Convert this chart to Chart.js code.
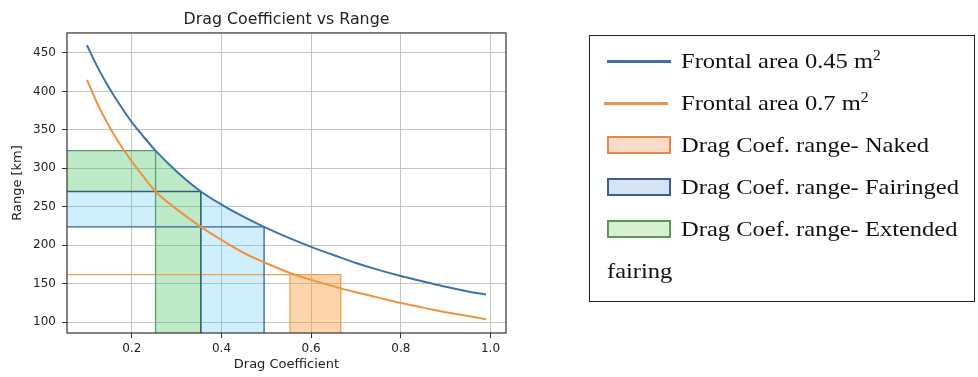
<!DOCTYPE html>
<html>
<head>
<meta charset="utf-8">
<script src="https://cdn.jsdelivr.net/npm/chart.js@4.4.1/dist/chart.umd.min.js"></script>
<style>
  body { margin: 0; background: #fff; }
  #wrap { position: relative; width: 978px; height: 377px; }
  #legend {
    position: absolute; left: 589px; top: 35px; width: 386px; height: 267px;
    border: 1px solid #222; box-sizing: border-box;
    font-family: 'Liberation Serif', 'Times New Roman', serif; font-size: 22px; color: #111;
  }
  .row { position: absolute; left: 0; width: 100%; height: 42px; }
  .row .txt { position: absolute; left: 91px; top: 0; line-height: 42px; white-space: nowrap;
              transform: scaleX(1.115); transform-origin: 0 50%; }
  .row .ln { position: absolute; left: 17px; top: 20px; width: 64px; height: 0; border-top: 3px solid; }
  .row .box { position: absolute; left: 17px; top: 12px; width: 64px; height: 18px; border: 2px solid; box-sizing: border-box; }
  sup { font-size: 14px; vertical-align: 8px; line-height: 0; }
</style>
</head>
<body>
<div id="wrap">
  <canvas id="chart" width="978" height="377"></canvas>
  <div id="legend">
    <div class="row" style="top:4px"><div class="ln" style="border-color:#3f6fa3"></div><div class="txt">Frontal area 0.45 m<sup>2</sup></div></div>
    <div class="row" style="top:46px"><div class="ln" style="border-color:#e8944a;left:14px"></div><div class="txt">Frontal area 0.7 m<sup>2</sup></div></div>
    <div class="row" style="top:88px"><div class="box" style="border-color:#e0894a;background:#fbdcc8"></div><div class="txt">Drag Coef. range- Naked</div></div>
    <div class="row" style="top:130px"><div class="box" style="border-color:#3b5f93;background:#d6e3f4"></div><div class="txt">Drag Coef. range- Fairinged</div></div>
    <div class="row" style="top:172px"><div class="box" style="border-color:#5a9a50;background:#d8f0d2"></div><div class="txt">Drag Coef. range- Extended</div></div>
    <div class="row" style="top:214px"><div class="txt" style="left:17px">fairing</div></div>
  </div>
</div>
<script>
// values
const dragCoef = [0.1, 0.125, 0.15, 0.175, 0.2, 0.225, 0.253, 0.3, 0.354, 0.4, 0.45, 0.495,
                  0.553, 0.6, 0.666, 0.7, 0.75, 0.8, 0.85, 0.9, 0.95, 0.99];
const rangeArea045 = [460, 430, 404, 381, 360, 342, 323, 296, 270, 253, 237, 224,
                      209, 198, 184, 177, 168, 160, 153, 146, 140, 136];
const rangeArea07 = [415, 382, 354, 330, 309, 290, 270, 247, 224, 207, 190, 178,
                     164, 155, 144, 139, 132, 125, 119, 113, 108, 104];

const xTicks = [0.2, 0.4, 0.6, 0.8, 1.0];
const yTicks = [100, 150, 200, 250, 300, 350, 400, 450];

// drag coefficient ranges and the matching range levels
const cdNaked = [0.553, 0.666];
const cdFairinged = [0.354, 0.495];
const cdExtended = [0.253, 0.354];
const rangeNaked = 162;
const rangeFairinged = [224, 270];
const rangeExtended = [270, 323];

const xMin = 0.0555, xMax = 1.0345, yMin = 86, yMax = 476;

function curve(ys) {
  return dragCoef.map((x, i) => ({ x: x, y: ys[i] }));
}
function curveBetween(a, b) {
  return curve(rangeArea045).filter(p => p.x >= a && p.x <= b);
}

const extPoly = [
  { x: xMin, y: rangeExtended[0] }, { x: xMin, y: rangeExtended[1] },
  ...curveBetween(cdExtended[0], cdExtended[1]),
  { x: cdExtended[1], y: yMin }, { x: cdExtended[0], y: yMin }, { x: cdExtended[0], y: rangeExtended[0] }
];
const fairPoly = [
  { x: xMin, y: rangeFairinged[0] }, { x: xMin, y: rangeFairinged[1] },
  { x: cdExtended[0], y: rangeFairinged[1] }, { x: cdExtended[0], y: rangeFairinged[0] },
  { x: cdFairinged[0], y: rangeFairinged[0] },
  ...curveBetween(cdFairinged[0], cdFairinged[1]),
  { x: cdFairinged[1], y: yMin }, { x: cdFairinged[0], y: yMin }, { x: cdFairinged[0], y: rangeFairinged[0] }
];
const nakedPoly = [
  { x: cdNaked[0], y: yMin }, { x: cdNaked[0], y: rangeNaked },
  { x: cdNaked[1], y: rangeNaked }, { x: cdNaked[1], y: yMin }
];

function poly(points, color) {
  return { data: points, showLine: true, fill: 'shape', backgroundColor: color,
           borderWidth: 0, pointRadius: 0, tension: 0 };
}
function outline(points, color, w) {
  return { data: points, showLine: true, fill: false, borderColor: color,
           borderWidth: w || 1.3, pointRadius: 0, tension: 0 };
}

const tickFont = { family: 'DejaVu Sans', size: 12 };

const frame = {
  id: 'frame',
  afterDatasetsDraw(chart) {
    const a = chart.chartArea, ctx = chart.ctx;
    ctx.save();
    ctx.strokeStyle = '#333';
    ctx.lineWidth = 1.2;
    ctx.strokeRect(a.left, a.top, a.right - a.left, a.bottom - a.top);
    ctx.restore();
  }
};

new Chart(document.getElementById('chart'), {
  type: 'scatter',
  data: {
    datasets: [
      { data: curve(rangeArea045), showLine: true, borderColor: '#3a74aa', borderWidth: 2,
        pointRadius: 0, cubicInterpolationMode: 'monotone', fill: false },
      { data: curve(rangeArea07), showLine: true, borderColor: '#ee9440', borderWidth: 2,
        pointRadius: 0, cubicInterpolationMode: 'monotone', fill: false },
      outline([{ x: xMin, y: rangeFairinged[1] }, { x: cdFairinged[0], y: rangeFairinged[1] }, { x: cdFairinged[0], y: yMin }], '#2c6272', 1.6),
      outline([{ x: xMin, y: rangeExtended[1] }, { x: cdExtended[0], y: rangeExtended[1] }, { x: cdExtended[0], y: yMin }], '#5b9a6c'),
      outline([{ x: xMin, y: rangeFairinged[0] }, { x: cdFairinged[1], y: rangeFairinged[0] }, { x: cdFairinged[1], y: yMin }], '#34609e'),
      outline([{ x: xMin, y: rangeNaked }, { x: cdNaked[1], y: rangeNaked }, { x: cdNaked[1], y: yMin }], '#f0a052'),
      outline([{ x: cdNaked[0], y: rangeNaked }, { x: cdNaked[0], y: yMin }], '#f0a052'),
      poly(extPoly, 'rgba(60,190,90,0.33)'),
      poly(fairPoly, 'rgba(60,190,240,0.25)'),
      poly(nakedPoly, 'rgba(248,150,50,0.4)')
    ]
  },
  options: {
    responsive: false,
    animation: false,
    events: [],
    layout: { padding: { left: 0, right: 472, top: 0, bottom: 0 } },
    plugins: {
      legend: { display: false },
      tooltip: { enabled: false },
      title: {
        display: true, text: 'Drag Coefficient vs Range', fullSize: false,
        color: '#222', font: { family: 'DejaVu Sans', size: 15.8, weight: 'normal' },
        padding: { top: 10, bottom: 4 }
      }
    },
    scales: {
      x: {
        type: 'linear', min: xMin, max: xMax,
        afterBuildTicks: s => { s.ticks = xTicks.map(v => ({ value: v })); },
        afterFit: s => { s.height = 44; },
        ticks: { font: tickFont, color: '#222', padding: 4, callback: v => v.toFixed(1) },
        grid: { color: '#c4c4c4', lineWidth: 1, tickLength: 5, tickColor: '#333' },
        border: { display: false },
        title: { display: true, text: 'Drag Coefficient', color: '#222',
                 font: { family: 'DejaVu Sans', size: 13 }, padding: { top: 0, bottom: 5 } }
      },
      y: {
        type: 'linear', min: yMin, max: yMax,
        afterBuildTicks: s => { s.ticks = yTicks.map(v => ({ value: v })); },
        afterFit: s => { s.width = 67; },
        ticks: { font: tickFont, color: '#222', padding: 6 },
        grid: { color: '#c4c4c4', lineWidth: 1, tickLength: 5, tickColor: '#333' },
        border: { display: false },
        title: { display: true, text: 'Range [km]', color: '#222',
                 font: { family: 'DejaVu Sans', size: 13 }, padding: { top: 10, bottom: 0 } }
      }
    }
  },
  plugins: [frame]
});
</script>
</body>
</html>
